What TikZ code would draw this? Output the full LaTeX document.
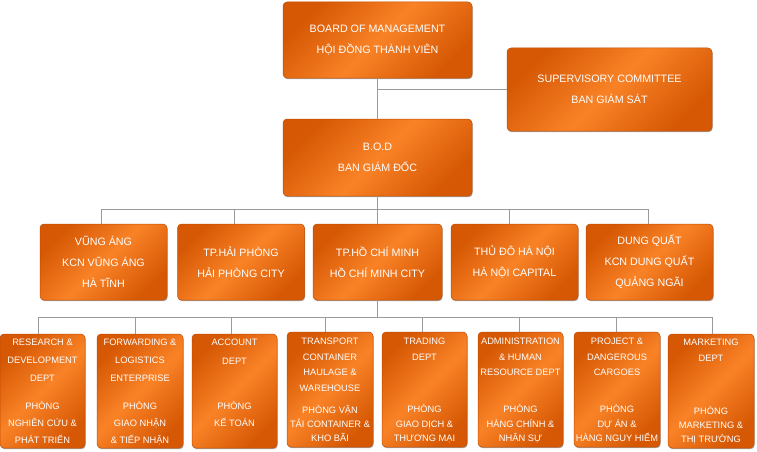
\documentclass[tikz,border=0pt]{standalone}
\usepackage{fontspec}
\setmainfont{Liberation Sans}
\usetikzlibrary{shadows}
\definecolor{orgD}{HTML}{D65804}
\definecolor{orgL}{HTML}{F98226}
\definecolor{orgE}{HTML}{C24E05}
\definecolor{lnk}{HTML}{9A9A9A}
\newcommand\fst{\rule{0pt}{10pt}}
\tikzset{
  box/.style={rounded corners=4pt, draw=orgE, line width=0.5pt,
    top color=orgD, bottom color=orgD, middle color=orgL, shading angle=45,
    drop shadow={shadow xshift=0.6pt, shadow yshift=-1.2pt, opacity=0.35, fill=black},
    inner sep=0pt, text=white},
  bigbox/.style={box, align=center, font=\fontsize{10.7}{21}\selectfont},
  link/.style={draw=lnk, line width=0.8pt},
  txt/.style={text=white, align=center, inner sep=0pt, anchor=north},
}
\begin{document}
\begin{tikzpicture}[x=1pt, y=-1pt]
\fill[white] (0,0) rectangle (757,452);
\useasboundingbox (0,0) rectangle (757,452);

% connectors first
\coordinate (b1) at (377.5,209);
\coordinate (b3) at (377.5,317.5);

% top level
\node[bigbox, minimum width=189pt, minimum height=76pt] (board) at (377.5,40) {BOARD OF MANAGEMENT\\HỘI ĐỒNG THÀNH VIÊN};
\node[bigbox, minimum width=205pt, minimum height=83pt] (sup) at (609.5,89.5) {SUPERVISORY COMMITTEE\\BAN GIÁM SÁT};
\node[bigbox, minimum width=189pt, minimum height=77pt] (bod) at (377.5,157.5) {B.O.D\\BAN GIÁM ĐỐC};

% row 2
\node[bigbox, minimum width=127pt, minimum height=76pt] (vung) at (103.5,262) {VŨNG ÁNG\\KCN VŨNG ÁNG\\HÀ TĨNH};
\node[bigbox, minimum width=127pt, minimum height=76pt] (hp) at (241,262) {TP.HẢI PHÒNG\\HẢI PHÒNG CITY};
\node[bigbox, minimum width=129pt, minimum height=76pt] (hcm) at (377.5,262) {TP.HỒ CHÍ MINH\\HỒ CHÍ MINH CITY};
\node[bigbox, minimum width=127pt, minimum height=76pt] (hn) at (514.5,262) {THỦ ĐÔ HÀ NỘI\\HÀ NỘI CAPITAL};
\node[bigbox, minimum width=127pt, minimum height=76pt] (dq) at (649.5,262) {DUNG QUẤT\\KCN DUNG QUẤT\\QUẢNG NGÃI};

% row 3 boxes
\node[box, minimum width=85pt, minimum height=114pt] (rd) at (42.5,391) {};
\node[box, minimum width=86pt, minimum height=114pt] (fw) at (140,391) {};
\node[box, minimum width=85pt, minimum height=114pt] (acc) at (234.5,391) {};
\node[box, minimum width=86pt, minimum height=115pt] (tr) at (330,389.5) {};
\node[box, minimum width=85pt, minimum height=115pt] (td) at (424.5,389.5) {};
\node[box, minimum width=85pt, minimum height=115pt] (ad) at (520.5,389.5) {};
\node[box, minimum width=86pt, minimum height=115pt] (pj) at (617,389.5) {};
\node[box, minimum width=86pt, minimum height=114pt] (mk) at (711,391) {};

% row 3 texts
\node[txt, font=\fontsize{9.3}{18}\selectfont] (rdT) at (42.5,335.3) {\fst RESEARCH \&\\DEVELOPMENT\\DEPT};
\node[txt, font=\fontsize{9.3}{17}\selectfont] (rdB) at (42.5,399.3) {\fst PHÒNG\\NGHIÊN CỨU \&\\PHÁT TRIỂN};
\node[txt, font=\fontsize{9.3}{18}\selectfont] (fwT) at (140,335.3) {\fst FORWARDING \&\\LOGISTICS\\ENTERPRISE};
\node[txt, font=\fontsize{9.3}{17}\selectfont] (fwB) at (140,399.3) {\fst PHÒNG\\GIAO NHẬN\\\& TIẾP NHẬN};
\node[txt, font=\fontsize{9.3}{19}\selectfont] (accT) at (234.5,335.3) {\fst ACCOUNT\\DEPT};
\node[txt, font=\fontsize{9.3}{17}\selectfont] (accB) at (234.5,399.3) {\fst PHÒNG\\KẾ TOÁN};
\node[txt, font=\fontsize{9.3}{15.6}\selectfont] (trT) at (330,334.3) {\fst TRANSPORT\\CONTAINER\\HAULAGE \&\\WAREHOUSE};
\node[txt, font=\fontsize{9.3}{14}\selectfont] (trB) at (330,403.3) {\fst PHÒNG VẬN\\TẢI CONTAINER \&\\KHO BÃI};
\node[txt, font=\fontsize{9.3}{16}\selectfont] (tdT) at (424.5,334.3) {\fst TRADING\\DEPT};
\node[txt, font=\fontsize{9.3}{14.5}\selectfont] (tdB) at (424.5,402.3) {\fst PHÒNG\\GIAO DỊCH \&\\THƯƠNG MẠI};
\node[txt, font=\fontsize{9.3}{15.5}\selectfont] (adT) at (520.5,334.3) {\fst ADMINISTRATION\\\& HUMAN\\RESOURCE DEPT};
\node[txt, font=\fontsize{9.3}{14.5}\selectfont] (adB) at (520.5,402.3) {\fst PHÒNG\\HÀNG CHÍNH \&\\NHÂN SỰ};
\node[txt, font=\fontsize{9.3}{15.5}\selectfont] (pjT) at (617,334.3) {\fst PROJECT \&\\DANGEROUS\\CARGOES};
\node[txt, font=\fontsize{9.3}{14.5}\selectfont] (pjB) at (617,402.3) {\fst PHÒNG\\DỰ ÁN \&\\HÀNG NGUY HIỂM};
\node[txt, font=\fontsize{9.3}{16}\selectfont] (mkT) at (711,335.3) {\fst MARKETING\\DEPT};
\node[txt, font=\fontsize{9.3}{14}\selectfont] (mkB) at (711,404.3) {\fst PHÒNG\\MARKETING \&\\THỊ TRƯỜNG};

% connectors
\draw[link] (board) -- (bod);
\draw[link] (bod.north |- sup.west) -- (sup.west);
\draw[link] (bod) -- (hcm);
\draw[link] ([xshift=-2.5pt]vung.north) |- (b1);
\draw[link] ([xshift=-7pt]hp.north) |- (b1);
\draw[link] ([xshift=-5.5pt]hn.north) |- (b1);
\draw[link] ([xshift=-1.5pt]dq.north) |- (b1);
\draw[link] (hcm) -- (b3);
\draw[link] ([xshift=-4.5pt]rd.north) |- (b3);
\draw[link] ([xshift=-5pt]fw.north) |- (b3);
\draw[link] ([xshift=-3.5pt]acc.north) |- (b3);
\draw[link] ([xshift=-5pt]tr.north) |- (b3);
\draw[link] ([xshift=-2.5pt]td.north) |- (b3);
\draw[link] ([xshift=-1.5pt]ad.north) |- (b3);
\draw[link] ([xshift=-1pt]pj.north) |- (b3);
\draw[link] ([xshift=1pt]mk.north) |- (b3);
\end{tikzpicture}
\end{document}
